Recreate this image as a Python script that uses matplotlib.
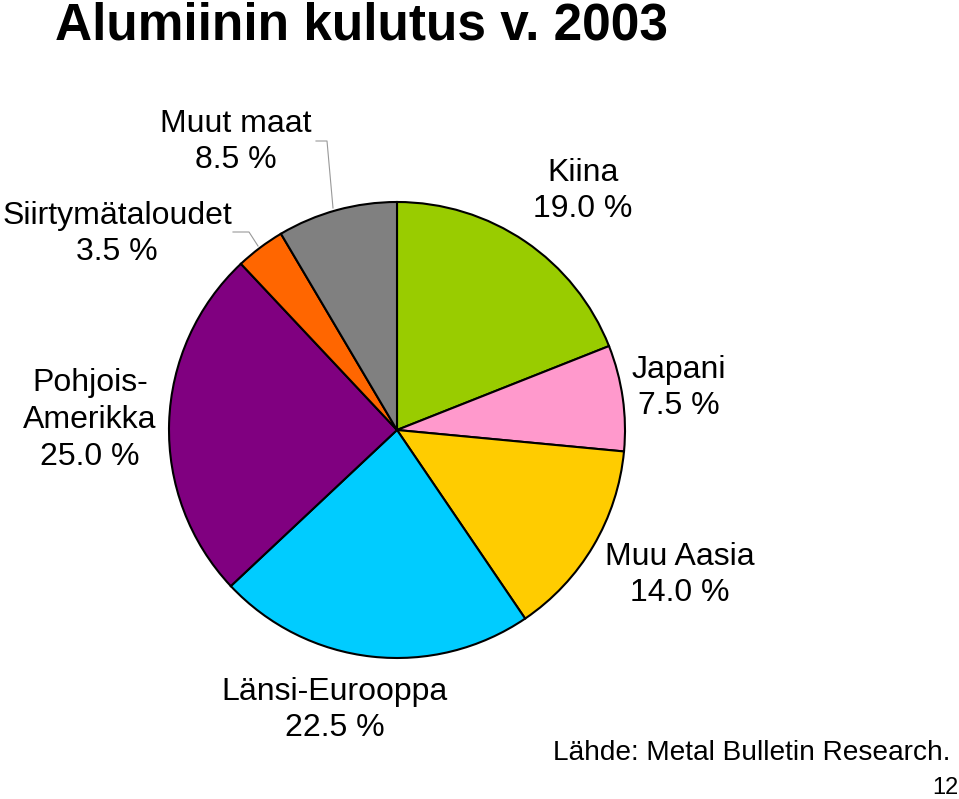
import matplotlib
matplotlib.use("Agg")
import matplotlib.pyplot as plt

plt.rcParams["font.family"] = ["Liberation Sans", "DejaVu Sans"]

# data (clockwise from 12 o'clock)
labels = ["Kiina", "Japani", "Muu Aasia", "Länsi-Eurooppa",
          "Pohjois-\nAmerikka", "Siirtymätaloudet", "Muut maat"]
shares = [19.0, 7.5, 14.0, 22.5, 25.0, 3.5, 8.5]
colors = ["#99CC00", "#FF99CC", "#FFCC00", "#00CCFF",
          "#800080", "#FF6600", "#808080"]

W, H = 959, 799
# label block centres in pixel coords (x, y from top)
label_pos = [(583, 191), (679, 388), (680, 575), (335, 710),
             (90, 420), (117, 234), (236, 142)]


def Y(py):
    return H - py


fig = plt.figure(figsize=(W / 100, H / 100), dpi=100)
ax = fig.add_axes([0, 0, 1, 1])

ax.pie(shares, colors=colors, startangle=90, counterclock=False,
       center=(397, Y(430)), radius=228,
       wedgeprops=dict(edgecolor="black", linewidth=1.5))
ax.set_xlim(0, W)
ax.set_ylim(0, H)
ax.set_aspect("auto")
ax.axis("off")

for lab, val, (px, py) in zip(labels, shares, label_pos):
    ax.text(px, Y(py), f"{lab}\n{val:.1f} %", ha="center", va="center",
            fontsize=23, linespacing=1.3)

# leader lines for the two small slices
ax.plot([316, 327, 333], [Y(141), Y(141), Y(208)], color="#999999", lw=0.8)
ax.plot([233, 249, 258], [Y(232), Y(232), Y(246)], color="#999999", lw=0.8)

fig.text(55 / W, 1 - 2 / H, "Alumiinin kulutus v. 2003", ha="left", va="top",
         fontsize=37, fontweight="bold")
fig.text(950 / W, Y(753) / H, "Lähde: Metal Bulletin Research.",
         ha="right", va="center", fontsize=20.2)
fig.text(958 / W, Y(788) / H, "12", ha="right", va="center", fontsize=17)

fig.savefig("out.png", dpi=100, facecolor="white")
